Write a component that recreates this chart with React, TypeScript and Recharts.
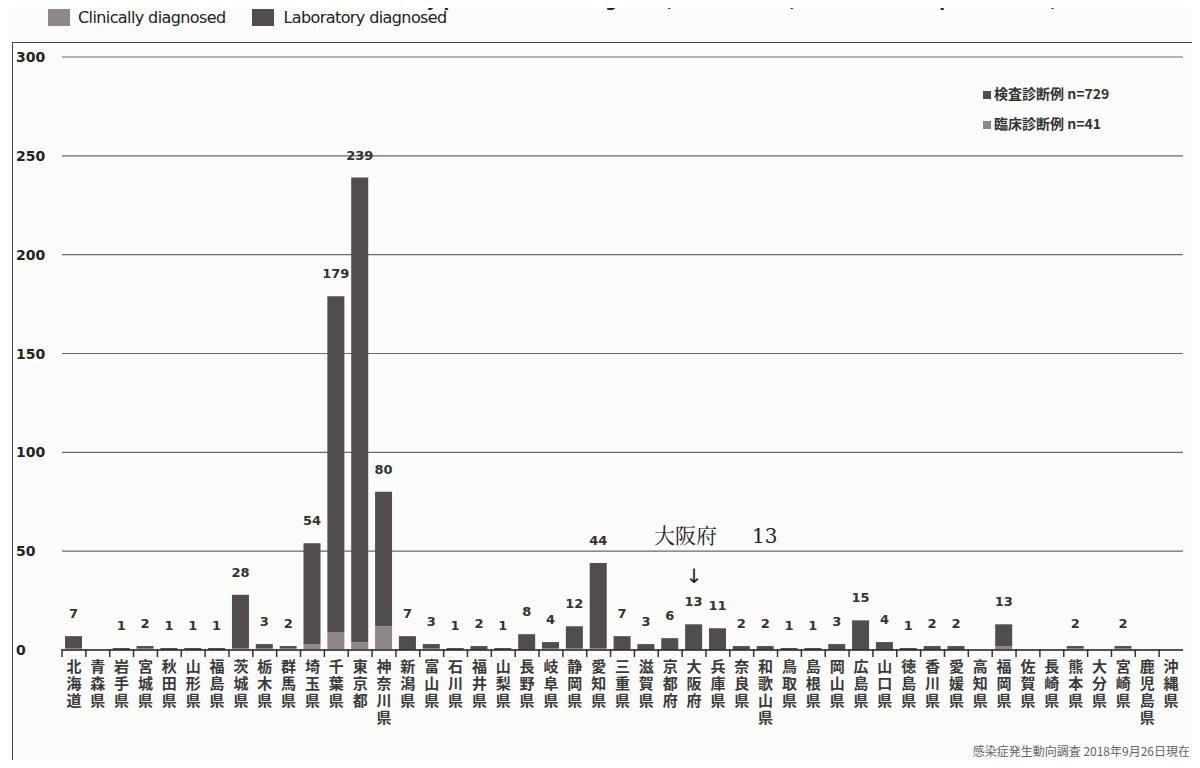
import { BarChart, Bar, XAxis, YAxis, CartesianGrid, LabelList, ReferenceDot } from 'recharts';

const prefectures = [
    '北海道', '青森県', '岩手県', '宮城県', '秋田県', '山形県', '福島県', '茨城県', '栃木県', '群馬県',
    '埼玉県', '千葉県', '東京都', '神奈川県', '新潟県', '富山県', '石川県', '福井県', '山梨県', '長野県',
    '岐阜県', '静岡県', '愛知県', '三重県', '滋賀県', '京都府', '大阪府', '兵庫県', '奈良県', '和歌山県',
    '鳥取県', '島根県', '岡山県', '広島県', '山口県', '徳島県', '香川県', '愛媛県', '高知県', '福岡県',
    '佐賀県', '長崎県', '熊本県', '大分県', '宮崎県', '鹿児島県', '沖縄県',
];

// laboratory diagnosed (n=729)
const labCases = [
    6, 0, 1, 1, 1, 1, 1, 27, 2, 1,
    51, 170, 235, 68, 7, 2, 1, 2, 1, 8,
    3, 11, 43, 7, 3, 6, 13, 11, 2, 2,
    1, 1, 3, 15, 4, 1, 2, 2, 0, 11,
    0, 0, 1, 0, 1, 0, 0,
];

// clinically diagnosed (n=41)
const clinicalCases = [
    1, 0, 0, 1, 0, 0, 0, 1, 1, 1,
    3, 9, 4, 12, 0, 1, 0, 0, 0, 0,
    1, 1, 1, 0, 0, 0, 0, 0, 0, 0,
    0, 0, 0, 0, 0, 0, 0, 0, 0, 2,
    0, 0, 1, 0, 1, 0, 0,
];

const yTicks = [0, 50, 100, 150, 200, 250, 300];

const LAB = '#514c4e';
const CLIN = '#8e8688';
const PLOT_LEFT = 62;
const PLOT_RIGHT = 1183;
const BAND = (PLOT_RIGHT - PLOT_LEFT) / prefectures.length;

const data = prefectures.map((name, i) => ({
    name,
    lab: labCases[i],
    clinical: clinicalCases[i],
    total: labCases[i] + clinicalCases[i],
}));

const YTick = ({ y, payload }: any) => (
    <text x={16} y={y + 5} fontSize={14} fontWeight="bold" fill="#222" fontFamily="DejaVu Sans" textAnchor="start">
        {payload.value}
    </text>
);

// stacked one character per line, like the original vertical labels
const XTick = ({ x, y, payload }: any) => {
    const chars = String(payload.value).split('');
    const left = x - BAND / 2;
    return (
        <g>
            <line x1={left} y1={y - 3} x2={left} y2={y + 5} stroke="#333" strokeWidth={1.5} />
            <text x={x} y={y + 20} fontSize={15} fontWeight="bold" fill="#3a3a3a" fontFamily="Noto Sans CJK JP" textAnchor="middle">
                {chars.map((c, i) => (
                    <tspan key={i} x={x} dy={i === 0 ? 0 : 17}>{c}</tspan>
                ))}
            </text>
        </g>
    );
};

const TotalLabel = (props: any) => {
    const { x, y, width, value } = props;
    if (!value) return null;
    return (
        <text x={x + width / 2} y={y - 18} fontSize={13} fontWeight="bold" fill="#333" fontFamily="DejaVu Sans" textAnchor="middle">
            {value}
        </text>
    );
};

const OsakaNote = ({ cx, cy }: any) => (
    <g fill="#222">
        <text x={cx - 40} y={cy - 20} fontSize={21} fontFamily="Noto Serif CJK JP, DejaVu Serif, serif">大阪府</text>
        <text x={cx + 58} y={cy - 20} fontSize={20} fontFamily="DejaVu Serif">13</text>
        <text x={cx} y={cy + 20} fontSize={20} textAnchor="middle" fontFamily="DejaVu Sans">↓</text>
    </g>
);

export default function App() {
    return (
        <div style={{ position: 'relative', width: 1200, height: 768, margin: -8, overflow: 'hidden', background: '#fbfbfa' }}>
            <svg width={1200} height={30} style={{ position: 'absolute', left: 0, top: 0 }}>
                <text x={1118} y={6} fontSize={17} fontWeight="bold" fill="#222" fontFamily="DejaVu Sans" textAnchor="end">
                    Rubella cases by prefecture of diagnosis, weeks 1–38, 2018 (as of September 26, 2018)
                </text>
            </svg>
            <div style={{ position: 'absolute', left: 48, top: 8, display: 'flex', alignItems: 'center', fontFamily: 'DejaVu Sans', fontSize: 16, color: '#222', letterSpacing: -0.6 }}>
                <span style={{ width: 22, height: 17, background: CLIN, display: 'inline-block', marginRight: 8 }} />
                <span>Clinically diagnosed</span>
                <span style={{ width: 22, height: 17, background: LAB, display: 'inline-block', marginLeft: 26, marginRight: 10 }} />
                <span>Laboratory diagnosed</span>
            </div>
            <div style={{ position: 'absolute', left: 12, top: 42, width: 1181, height: 718, border: '1.5px solid #444' }} />
            <div style={{ position: 'absolute', left: 983, top: 78, fontFamily: 'Noto Sans CJK JP', fontSize: 14, fontWeight: 'bold', color: '#333', lineHeight: '30px' }}>
                <div><span style={{ display: 'inline-block', width: 8, height: 8, background: LAB, marginRight: 3 }} />検査診断例 n=729</div>
                <div><span style={{ display: 'inline-block', width: 8, height: 8, background: CLIN, marginRight: 3 }} />臨床診断例 n=41</div>
            </div>
            <div style={{ position: 'absolute', right: 10, top: 742, fontFamily: 'Noto Sans CJK JP', fontSize: 12, color: '#666' }}>
                感染症発生動向調査 2018年9月26日現在
            </div>
            <div style={{ position: 'absolute', left: 0, top: 0 }}>
                <BarChart
                    width={1200}
                    height={768}
                    data={data}
                    margin={{ top: 57, right: 1200 - PLOT_RIGHT, bottom: 18, left: 12 }}
                    barSize={17}
                >
                    <CartesianGrid vertical={false} stroke="#6a6a6a" strokeWidth={1.2} />
                    <YAxis
                        width={50}
                        domain={[0, 300]}
                        ticks={yTicks}
                        axisLine={false}
                        tickLine={false}
                        tick={<YTick />}
                        interval={0}
                    />
                    <XAxis
                        dataKey="name"
                        height={100}
                        interval={0}
                        tickLine={false}
                        tickSize={0}
                        axisLine={{ stroke: '#333', strokeWidth: 1.5 }}
                        tick={<XTick />}
                    />
                    <Bar dataKey="clinical" stackId="a" fill={CLIN} isAnimationActive={false} />
                    <Bar dataKey="lab" stackId="a" fill={LAB} isAnimationActive={false}>
                        <LabelList dataKey="total" content={<TotalLabel />} />
                    </Bar>
                    <ReferenceDot x="大阪府" y={44} r={0} ifOverflow="visible" shape={<OsakaNote />} />
                </BarChart>
            </div>
        </div>
    );
}
